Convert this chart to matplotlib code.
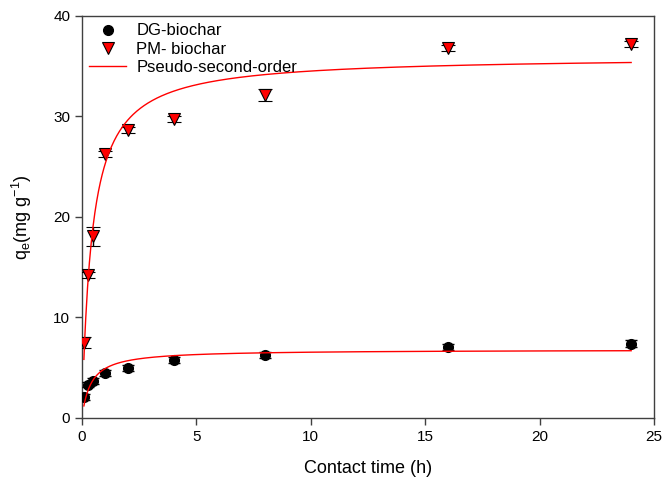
import numpy as np
import matplotlib.pyplot as plt
from matplotlib.lines import Line2D

plt.rcParams['font.family'] = ['Liberation Sans', 'DejaVu Sans']
plt.rcParams['mathtext.default'] = 'regular'

# contact time (h)
time = [0.083, 0.25, 0.5, 1, 2, 4, 8, 16, 24]

# adsorbed amounts (mg/g) with error
dg_q = [2.1, 3.3, 3.7, 4.5, 5.0, 5.8, 6.3, 7.1, 7.4]
dg_err = [0.3, 0.25, 0.3, 0.3, 0.3, 0.3, 0.3, 0.3, 0.35]
pm_q = [7.5, 14.2, 18.1, 26.3, 28.7, 29.7, 32.1, 36.8, 37.2]
pm_err = [0.58, 0.3, 0.95, 0.3, 0.3, 0.3, 0.6, 0.3, 0.3]

# pseudo-second-order parameters (qe, k)
dg_qe, dg_k = 6.8, 0.38
pm_qe, pm_k = 36.0, 0.0647

fig = plt.figure(figsize=(6.65, 4.83), dpi=100)
ax = fig.add_axes([0.1233, 0.1346, 0.8602, 0.8324])

tt = np.linspace(time[0], time[-1], 600)
def pso(t, qe, k):
    return k * qe**2 * t / (1 + k * qe * t)

ax.errorbar(time, dg_q, yerr=dg_err, fmt='o', color='black', markersize=7,
            ecolor='black', elinewidth=1, capsize=4, zorder=3)
ax.errorbar(time, pm_q, yerr=pm_err, fmt='v', markerfacecolor='red', markeredgecolor='black',
            markeredgewidth=0.8, markersize=8, ecolor='black', elinewidth=1, capsize=5,
            zorder=3)
ax.plot(tt, pso(tt, dg_qe, dg_k), color='red', lw=1, zorder=4)
ax.plot(tt, pso(tt, pm_qe, pm_k), color='red', lw=1, zorder=4)

ax.set_xlim(0, 25)
ax.set_ylim(0, 40)
ax.set_xticks([0, 5, 10, 15, 20, 25])
ax.set_yticks([0, 10, 20, 30, 40])
ax.tick_params(direction='out', length=5, width=1, labelsize=11, color='#404040')
for s in ax.spines.values():
    s.set_color('#404040')
    s.set_linewidth(1)

ax.set_xlabel('Contact time (h)', fontsize=13, labelpad=12)
ax.set_ylabel('q$_{e}$(mg g$^{-1}$)', fontsize=13, labelpad=14)

handles = [
    Line2D([], [], ls='none', marker='o', color='black', markersize=7),
    Line2D([], [], ls='none', marker='v', markerfacecolor='red', markeredgecolor='black',
           markeredgewidth=0.8, markersize=8),
    Line2D([], [], color='red', lw=1),
]
labels = ['DG-biochar', 'PM- biochar', 'Pseudo-second-order']
ax.legend(handles, labels, loc='upper left', frameon=False, fontsize=12,
          handlelength=2.2, borderaxespad=0.15, borderpad=0.3,
          labelspacing=0.2, handletextpad=0.6)

fig.savefig('out.png', dpi=100)
